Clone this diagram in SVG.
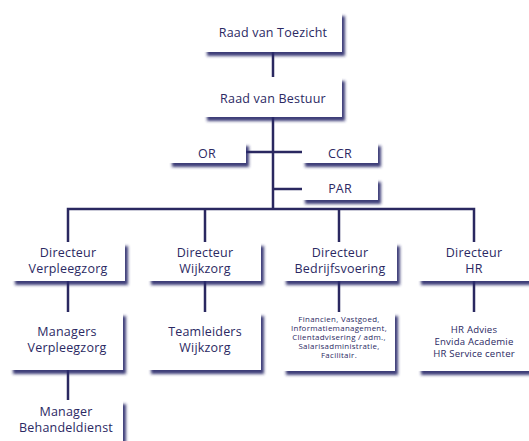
<svg xmlns="http://www.w3.org/2000/svg" width="529" height="441" viewBox="0 0 529 441">
<defs>
<filter id="sh" x="-10%" y="-20%" width="130%" height="160%">
<feDropShadow dx="3" dy="4" stdDeviation="1.4" flood-color="#2a276a" flood-opacity="0.9"/>
</filter>
<style>
.b{fill:#fff;filter:url(#sh)}
.t{font-family:"Open Sans","Lato",sans-serif;font-size:12.5px;fill:#2b2963;text-anchor:middle;letter-spacing:0.2px}
.s{font-family:"Open Sans","Lato",sans-serif;font-size:7.9px;fill:#2b2963;text-anchor:middle;letter-spacing:0.3px}
.m{font-family:"Open Sans","Lato",sans-serif;font-size:9.6px;fill:#2b2963;text-anchor:middle;letter-spacing:0.2px}
.c{stroke:#2a2860;stroke-width:2.5;fill:none}
</style>
</defs>
<rect width="529" height="441" fill="#fff"/>
<g id="connectors" class="c">
<path d="M273 52V208"/>
<path d="M246 152H302"/>
<path d="M273 189H302"/>
<path d="M68 242V209H474V242"/>
<path d="M205 209V242"/>
<path d="M339 209V242"/>
<path d="M68 281V312"/>
<path d="M68 370V400"/>
<path d="M205 281V312"/>
<path d="M339 281V312"/>
<path d="M474 281V312"/>
</g>
<g id="rvt"><rect class="b" x="204" y="12" width="138" height="40"/><text class="t" x="273" y="37">Raad van Toezicht</text></g>
<g id="rvb"><rect class="b" x="204" y="77" width="138" height="40"/><text class="t" x="273" y="103">Raad van Bestuur</text></g>
<g id="or"><rect class="b" x="169" y="142" width="77" height="21"/><text class="t" x="207" y="158">OR</text></g>
<g id="ccr"><rect class="b" x="302" y="142" width="76" height="21"/><text class="t" x="340" y="158">CCR</text></g>
<g id="par"><rect class="b" x="302" y="178" width="76" height="22"/><text class="t" x="340" y="193">PAR</text></g>
<g id="dvz"><rect class="b" x="12" y="242" width="113" height="39"/><text class="t" x="68" y="257">Directeur</text><text class="t" x="68" y="273">Verpleegzorg</text></g>
<g id="dwz"><rect class="b" x="148" y="242" width="113" height="39"/><text class="t" x="205" y="257">Directeur</text><text class="t" x="205" y="273">Wijkzorg</text></g>
<g id="dbv"><rect class="b" x="283" y="242" width="114" height="39"/><text class="t" x="340" y="257">Directeur</text><text class="t" x="340" y="273">Bedrijfsvoering</text></g>
<g id="dhr"><rect class="b" x="418" y="242" width="113" height="39"/><text class="t" x="474" y="257">Directeur</text><text class="t" x="474" y="273">HR</text></g>
<g id="mvz"><rect class="b" x="10" y="312" width="113" height="58"/><text class="t" x="67" y="335.5">Managers</text><text class="t" x="67" y="351.5">Verpleegzorg</text></g>
<g id="tlw"><rect class="b" x="148" y="312" width="113" height="58"/><text class="t" x="205" y="335.5">Teamleiders</text><text class="t" x="205" y="351.5">Wijkzorg</text></g>
<g id="fin"><rect class="b" x="283" y="312" width="112" height="59"/>
<text class="s" x="339" y="321.5">Financien, Vastgoed,</text>
<text class="s" x="339" y="330.5">Informatiemanagement,</text>
<text class="s" x="339" y="339.5">Clientadvisering / adm.,</text>
<text class="s" x="339" y="348.5">Salarisadministratie,</text>
<text class="s" x="339" y="357.5">Facilitair.</text></g>
<g id="hr"><rect class="b" x="418" y="312" width="113" height="59"/>
<text class="m" x="474" y="333">HR Advies</text>
<text class="m" x="474" y="345">Envida Academie</text>
<text class="m" x="474" y="357">HR Service center</text></g>
<g id="mbd"><rect class="b" x="9" y="400" width="114" height="50"/><text class="t" x="66" y="416">Manager</text><text class="t" x="66" y="432">Behandeldienst</text></g>
</svg>
